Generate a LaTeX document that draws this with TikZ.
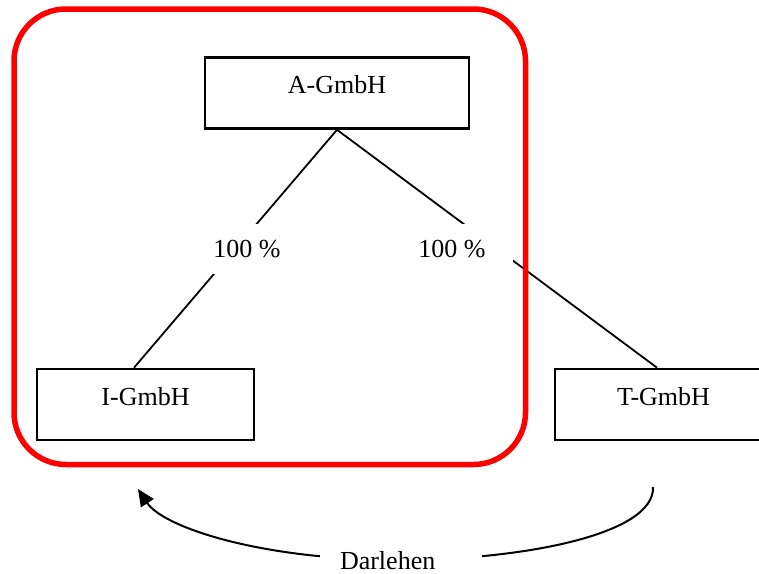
\documentclass[tikz,border=0pt]{standalone}
\usepackage{fontspec}
\setmainfont{Liberation Serif}
\usetikzlibrary{arrows.meta}

\begin{document}
\begin{tikzpicture}[x=0.5pt, y=-0.5pt, font=\fontsize{13}{15}\selectfont]
                \tikzset{company/.style={draw, line width=1.3pt, minimum width=108.5pt, inner ysep=0pt, text height=18pt, text depth=17.5pt}}
                \tikzset{share/.style={fill=white, inner sep=0pt, minimum width=61pt, minimum height=25pt}}
                \tikzset{group/.style={draw=red, line width=2.75pt, rounded corners=26pt}}
                \tikzset{loan/.style={draw, line width=1pt, -{Triangle[length=8.5pt, width=7.5pt]}}}
                \useasboundingbox (0,0) rectangle (759,573);

                % COMPANIES
                \node[company, minimum width=132pt] (A) at (337,93) {A-GmbH};
                \node[company] (I) at (145.5,404.5) {I-GmbH};
                \node[company] (T) at (663.5,404.5) {T-GmbH};

                % SHARES
                \path[draw, line width=0.9pt]
                    (A.south) edge ([xshift=-5.75pt] I.north)
                    (A.south) edge ([xshift=-3.25pt] T.north);
                \node[share] (sI) at (247,249) {100 \%};
                \node[share] (sT) at (452,249) {100 \%};

                % GROUP
                \draw[group] (14,9) rectangle (525.5,464.5);

                % LOAN
                \coordinate (dT) at (653,487);
                \coordinate (dI) at (138,489);
                \draw[loan] (dT) .. controls (655,535) and (520,560) .. (400,560)
                    .. controls (260,560) and (163,527) .. (dI);
                \node[fill=white, text width=61pt, align=left, inner xsep=10pt, inner ysep=1pt] (D) at (401,561) {Darlehen};

            \end{tikzpicture}
\end{document}
